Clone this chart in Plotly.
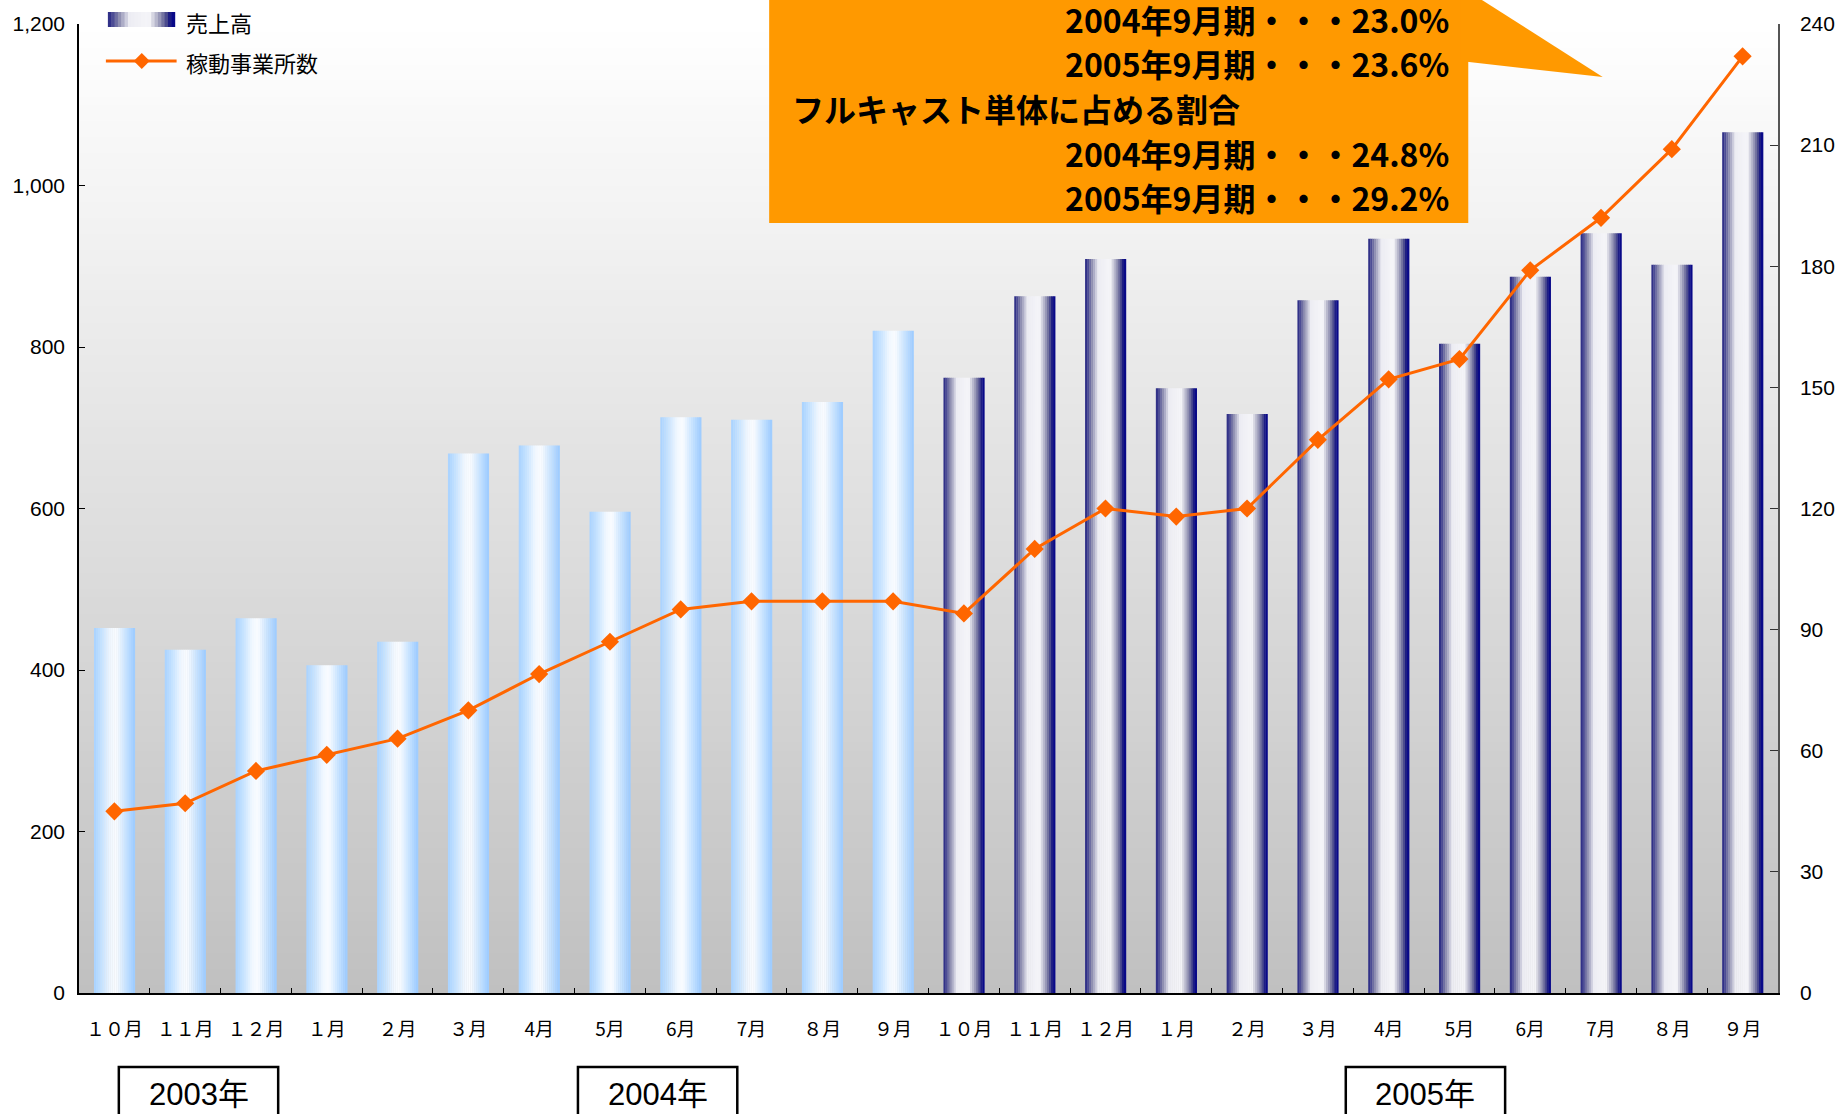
import plotly.graph_objects as go

# ---------------- data ----------------
periods = ["2003-10", "2003-11", "2003-12", "2004-01", "2004-02", "2004-03",
           "2004-04", "2004-05", "2004-06", "2004-07", "2004-08", "2004-09",
           "2004-10", "2004-11", "2004-12", "2005-01", "2005-02", "2005-03",
           "2005-04", "2005-05", "2005-06", "2005-07", "2005-08", "2005-09"]
month_labels = ["１０月", "１１月", "１２月", "１月", "２月", "３月",
                "4月", "5月", "6月", "7月", "８月", "９月",
                "１０月", "１１月", "１２月", "１月", "２月", "３月",
                "4月", "5月", "6月", "7月", "８月", "９月"]
sales = [452, 425, 464, 406, 435, 668, 678, 596, 713, 710, 732, 820,
         762, 863, 909, 749, 717, 858, 934, 804, 887, 941, 902, 1066]
offices = [45, 47, 55, 59, 63, 70, 79, 87, 95, 97, 97, 97,
           94, 110, 120, 118, 120, 137, 152, 157, 179, 192, 209, 232]
bar_style = ["light"] * 12 + ["navy"] * 12
year_labels = ["2003年", "2004年", "2005年"]
callout_lines = ["2004年9月期・・・23.0%", "2005年9月期・・・23.6%",
                 "フルキャスト単体に占める割合",
                 "2004年9月期・・・24.8%", "2005年9月期・・・29.2%"]
legend_names = ["売上高", "稼動事業所数"]

# ---------------- geometry helpers ----------------
W, H = 1847, 1114
L, R, T, B = 75, 1781, 24, 993


def px(x):
    return (x - L) / (R - L)


def py(y):
    return (B - y) / (B - T)


# gradient stops
LIGHT = [(0.0, (168, 210, 255)), (0.2, (200, 228, 255)), (0.4, (240, 247, 255)),
         (0.55, (250, 252, 255)), (0.75, (205, 230, 255)), (1.0, (155, 202, 255))]
NAVY = [(0.0, (35, 35, 130)), (0.08, (80, 80, 150)), (0.16, (135, 135, 172)),
        (0.24, (182, 182, 205)), (0.32, (236, 236, 243)), (0.62, (246, 246, 249)),
        (0.7, (200, 200, 215)), (0.78, (150, 150, 182)), (0.86, (90, 90, 145)),
        (0.93, (25, 25, 130)), (1.0, (0, 0, 139))]


def grad(stops, t):
    for (t0, c0), (t1, c1) in zip(stops[:-1], stops[1:]):
        if t0 <= t <= t1:
            f = (t - t0) / (t1 - t0) if t1 > t0 else 0
            c = [round(a + (b - a) * f) for a, b in zip(c0, c1)]
            return "rgb(%d,%d,%d)" % tuple(c)
    c = stops[-1][1]
    return "rgb(%d,%d,%d)" % c


fig = go.Figure()

# bars drawn as vertical strips to emulate horizontal gradient
N = 20
bw = 0.577
sw = bw / N
for i in range(N):
    t = (i + 0.5) / N
    colors = [grad(LIGHT if s == "light" else NAVY, t) for s in bar_style]
    fig.add_trace(go.Bar(
        x=periods, y=sales, width=sw * 1.15, offset=-bw / 2 + i * sw,
        marker=dict(color=colors, line=dict(width=0)),
        name=legend_names[0], showlegend=False, hoverinfo="skip" if i else None,
    ))

fig.add_trace(go.Scatter(
    x=periods, y=offices, yaxis="y2", mode="lines+markers",
    line=dict(color="#ff6600", width=3),
    marker=dict(symbol="diamond", size=14, color="#ff6600"),
    name=legend_names[1], showlegend=False,
))

shapes = []
# background vertical gradient
NG = 120
for k in range(NG):
    y0 = k / NG
    y1 = (k + 1) / NG
    v = round(192 + (255 - 192) * ((k + 0.5) / NG))
    shapes.append(dict(type="rect", xref="paper", yref="paper", x0=0, x1=1,
                       y0=y0, y1=y1 + 0.001, fillcolor="rgb(%d,%d,%d)" % (v, v, v),
                       line=dict(width=0), layer="below"))

# callout
shapes.append(dict(type="rect", xref="paper", yref="paper",
                   x0=px(768), x1=px(1470), y0=py(223), y1=py(-10),
                   fillcolor="#ff9900", line=dict(width=0), layer="above"))
shapes.append(dict(type="path", xref="paper", yref="paper",
                   path="M %f %f L %f %f L %f %f L %f %f Z" % (
                       px(1462), py(-10), px(1468), py(-10), px(1605), py(77), px(1462), py(61)),
                   fillcolor="#ff9900", line=dict(width=0), layer="above"))

# legend swatches
NS = 20
for k in range(NS):
    x0 = 104 + (171 - 104) * k / NS
    x1 = 104 + (171 - 104) * (k + 1) / NS + 0.6
    shapes.append(dict(type="rect", xref="paper", yref="paper",
                       x0=px(x0), x1=px(x1), y0=py(27), y1=py(12),
                       fillcolor=grad(NAVY, (k + 0.5) / NS), line=dict(width=0)))
shapes.append(dict(type="line", xref="paper", yref="paper",
                   x0=px(102), x1=px(173), y0=py(61), y1=py(61),
                   line=dict(color="#ff6600", width=3)))
shapes.append(dict(type="path", xref="paper", yref="paper",
                   path="M %f %f L %f %f L %f %f L %f %f Z" % (
                       px(130), py(61), px(138), py(53), px(146), py(61), px(138), py(69)),
                   fillcolor="#ff6600", line=dict(width=0)))

annotations = []
for txt, yy in zip(legend_names, [22, 62]):
    annotations.append(dict(text=txt, xref="paper", yref="paper", x=px(180), y=py(yy),
                            xanchor="left", yanchor="middle", showarrow=False,
                            font=dict(family="Noto Sans CJK JP", size=22, color="black")))

# callout text
cy = [19, 63, 108, 153, 197]
for txt, yy in zip(callout_lines, cy):
    heading = txt.startswith("フ")
    annotations.append(dict(text="<b>%s</b>" % txt, xref="paper", yref="paper",
                            x=px(790) if heading else px(1452), y=py(yy),
                            xanchor="left" if heading else "right", yanchor="middle",
                            showarrow=False, borderpad=0,
                            font=dict(family="Noto Sans CJK JP", size=32, color="black")))

# year boxes
for txt, (x0, x1) in zip(year_labels, [(115, 275), (576, 736), (1347, 1507)]):
    shapes.append(dict(type="rect", xref="paper", yref="paper",
                       x0=px(x0), x1=px(x1), y0=py(1130), y1=py(1067),
                       fillcolor="white", line=dict(color="black", width=2.5)))
    annotations.append(dict(text=txt, xref="paper", yref="paper",
                            x=px((x0 + x1) / 2), y=py(1094), xanchor="center",
                            yanchor="middle", showarrow=False,
                            font=dict(family="Liberation Sans, Noto Sans CJK JP",
                                      size=31, color="black")))

fig.update_layout(
    width=W, height=H, autosize=False,
    margin=dict(l=L, r=W - R, t=T, b=H - B, pad=0),
    paper_bgcolor="white", plot_bgcolor="white",
    barmode="overlay", showlegend=False,
    shapes=shapes, annotations=annotations,
    xaxis=dict(type="category", categoryorder="array", categoryarray=periods,
               tickmode="array", tickvals=periods, ticktext=month_labels,
               tickson="boundaries", ticks="inside", ticklen=5, tickcolor="black",
               showline=True, linecolor="black", linewidth=2, showgrid=False,
               range=[-0.5, 23.5], ticklabelstandoff=18,
               tickfont=dict(family="Noto Sans CJK JP", size=19, color="black")),
    yaxis=dict(range=[0, 1200], dtick=200, tickformat=",", ticks="inside",
               ticklen=6, tickcolor="black", showline=True, linecolor="black",
               linewidth=1.5, showgrid=False, zeroline=False, ticklabelstandoff=8,
               tickfont=dict(family="Liberation Sans", size=21, color="black")),
    yaxis2=dict(range=[0, 240], dtick=30, overlaying="y", side="right",
                ticks="inside", ticklen=8, tickcolor="#333", showline=True,
                linecolor="#555", linewidth=1.5, showgrid=False, zeroline=False,
                ticklabelstandoff=16,
                tickfont=dict(family="Liberation Sans", size=21, color="black")),
)

fig.write_html("out.html", config={"displayModeBar": False},
               post_script="document.body.style.margin='0';document.body.style.overflow='hidden';")
